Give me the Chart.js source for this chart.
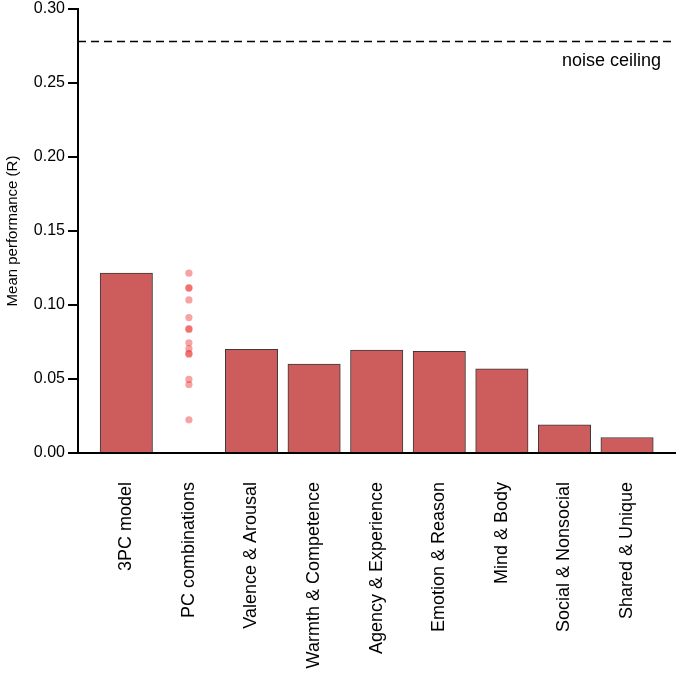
<!DOCTYPE html>
<html>
<head>
<meta charset="utf-8">
<script src="https://cdn.jsdelivr.net/npm/chart.js@4/dist/chart.umd.min.js"></script>
<style>
    html, body { margin: 0; padding: 0; background: #fff; }
    #wrap { width: 679px; height: 675px; }
</style>
</head>
<body>
<div id="wrap"><canvas id="chart"></canvas></div>
<script>
// Categories along the x axis
const CATEGORIES = [
    '3PC model', 'PC combinations', 'Valence & Arousal', 'Warmth & Competence',
    'Agency & Experience', 'Emotion & Reason', 'Mind & Body', 'Social & Nonsocial',
    'Shared & Unique'
];

// Bar heights (null for the PC combinations column, which is shown as dots)
const BAR_VALUES = [0.1215, null, 0.0700, 0.0600, 0.0696, 0.0687, 0.0568, 0.0190, 0.0105];

// Individual PC combination scores (index 1 on the x axis)
const PC_COMBO_VALUES = [
    0.1215, 0.1118, 0.1113, 0.1034, 0.0915, 0.0840, 0.0835,
    0.0745, 0.0705, 0.0673, 0.0668, 0.0497, 0.0463, 0.0224
];

const NOISE_CEILING = 0.278;
const Y_TICKS = [0, 0.05, 0.10, 0.15, 0.20, 0.25, 0.30];

// x range padded so the axis extends past the first and last bar
const X_MIN = -0.772;
const X_MAX = 8.766;

const COLORS = {
    bar: '#cd5c5c',
    barEdge: '#3a3a3a',
    dot: 'rgba(235, 50, 50, 0.45)',
    axis: '#000',
};

Chart.defaults.font.family = "'Liberation Sans', Arial, sans-serif";
Chart.defaults.color = '#000';

// Text label under the dashed noise-ceiling line
const noiseLabel = {
    id: 'noiseLabel',
    afterDatasetsDraw(chart) {
        const { ctx, chartArea, scales } = chart;
        const y = scales.y.getPixelForValue(NOISE_CEILING);
        ctx.save();
        ctx.font = "18px 'Liberation Sans', Arial, sans-serif";
        ctx.fillStyle = '#000';
        ctx.textAlign = 'right';
        ctx.textBaseline = 'middle';
        ctx.fillText('noise ceiling', chartArea.right - 14, y + 19);
        ctx.restore();
    }
};

const ctx = document.getElementById('chart').getContext('2d');
new Chart(ctx, {
    type: 'bar',
    data: {
        datasets: [
            {
                type: 'bar',
                data: BAR_VALUES.map((v, i) => ({ x: i, y: v })).filter(p => p.y !== null),
                backgroundColor: COLORS.bar,
                borderColor: COLORS.barEdge,
                borderWidth: 1,
                barThickness: 52.4,
                order: 2,
            },
            {
                type: 'scatter',
                data: PC_COMBO_VALUES.map(v => ({ x: 1, y: v })),
                backgroundColor: COLORS.dot,
                borderWidth: 0,
                pointRadius: 3.6,
                order: 1,
            },
            {
                type: 'line',
                data: [{ x: X_MIN, y: NOISE_CEILING }, { x: X_MAX, y: NOISE_CEILING }],
                borderColor: '#000',
                borderWidth: 1.6,
                borderDash: [8, 5],
                pointRadius: 0,
                fill: false,
                order: 0,
            }
        ]
    },
    options: {
        responsive: true,
        maintainAspectRatio: false,
        animation: false,
        layout: { padding: { top: 0, right: 2, left: 0, bottom: 0 } },
        plugins: {
            legend: { display: false },
            tooltip: { enabled: false },
        },
        scales: {
            x: {
                type: 'linear',
                offset: false,
                min: X_MIN,
                max: X_MAX,
                afterBuildTicks: (scale) => {
                    scale.ticks = CATEGORIES.map((_, i) => ({ value: i }));
                },
                afterFit: (scale) => { scale.height = 222; },
                grid: { display: false, drawTicks: false, offset: false },
                border: { display: true, color: COLORS.axis, width: 2 },
                ticks: {
                    autoSkip: false,
                    minRotation: 90,
                    maxRotation: 90,
                    padding: 29,
                    font: { size: 18 },
                    color: '#000',
                    callback: (v) => CATEGORIES[v] ?? '',
                },
            },
            y: {
                min: 0,
                max: 0.30,
                afterBuildTicks: (scale) => {
                    scale.ticks = Y_TICKS.map(v => ({ value: v }));
                },
                afterFit: (scale) => {
                    scale.width = 78;
                    scale.paddingTop = 9;
                },
                grid: {
                    drawOnChartArea: false,
                    drawTicks: true,
                    tickLength: 10,
                    color: COLORS.axis,
                    lineWidth: 2,
                },
                border: { display: true, color: COLORS.axis, width: 2 },
                ticks: {
                    padding: 3,
                    font: { size: 16 },
                    color: '#000',
                    callback: (v) => v.toFixed(2),
                },
                title: {
                    display: true,
                    text: 'Mean performance (R)',
                    font: { size: 15 },
                    color: '#000',
                    padding: { top: 4, bottom: 4 },
                },
            }
        }
    },
    plugins: [noiseLabel]
});
</script>
</body>
</html>
